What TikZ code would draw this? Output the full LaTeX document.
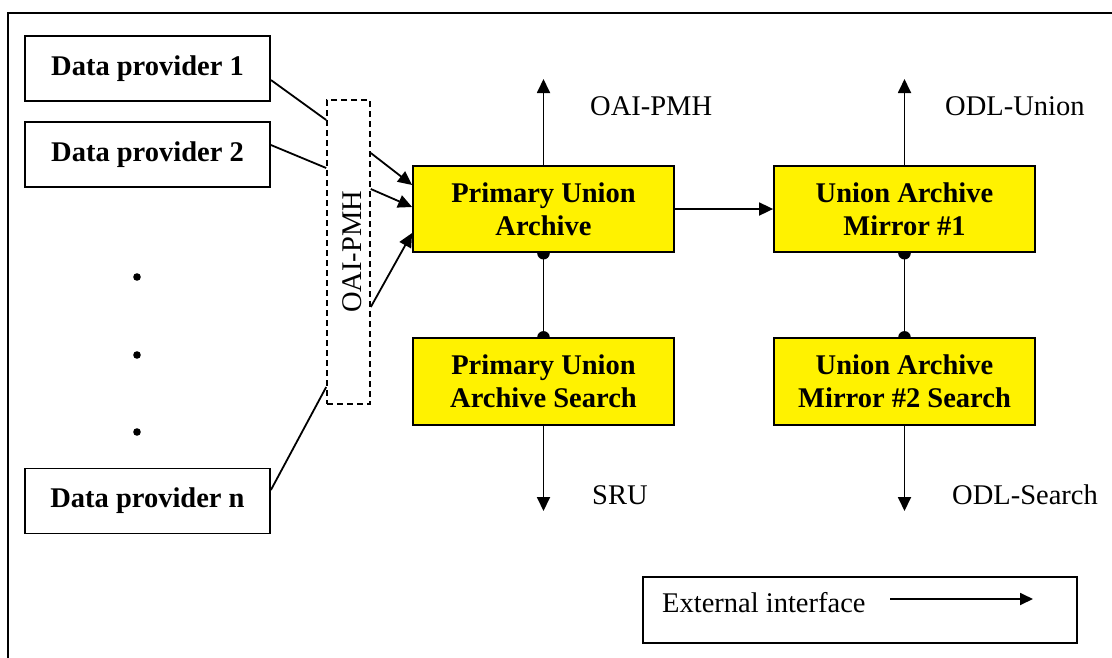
\documentclass[tikz,border=0pt]{standalone}
\usepackage{fontspec}
\setmainfont{Liberation Serif}
\usetikzlibrary{arrows.meta,backgrounds}
\begin{document}
\begin{tikzpicture}[x=1pt,y=-1pt,
  txt/.style={font=\fontsize{28.5}{33}\selectfont, inner sep=0pt},
  box/.style={draw, line width=1.8pt, minimum width=245pt, minimum height=65pt, align=center, inner sep=0pt,
    font=\fontsize{28.5}{33}\selectfont\bfseries},
  ybox/.style={box, fill=yellow, minimum width=261pt, minimum height=86.5pt},
  arr/.style={line width=1.8pt, -{Triangle[length=14pt,width=13pt]}},
  ln/.style={line width=1.8pt}]
\useasboundingbox (0,0) rectangle (1112,657);
\draw[line width=2.6pt] (8,13) rectangle (1130,680);

\node[box] (dp1) at (147.5,68.5) {Data provider 1};
\node[box] (dp2) at (147.5,154.5) {Data provider 2};
\node[box] (dpn) at (147.5,501) {Data provider n};
\fill (137,277) circle (3.8pt) (137,355) circle (3.8pt) (137,432) circle (3.8pt);

\node[draw, line width=1.6pt, dash pattern=on 6pt off 4pt, minimum width=43pt, minimum height=304pt, inner sep=0pt] (oai) at (348.5,252) {};
\node[txt, rotate=90] (oait) at (352,252) {OAI-PMH};

\node[ybox] (pua) at (543.5,209) {Primary Union\\Archive};
\node[ybox] (puas) at (543.5,381.5) {Primary Union\\Archive Search};
\node[ybox] (uam1) at (904.5,209) {Union Archive\\Mirror \#1};
\node[ybox] (uam2) at (904.5,381.5) {Union Archive\\Mirror \#2 Search};

\draw[ln] ([yshift=-11.5pt]dp1.east) -- ([yshift=132pt]oai.west);
\draw[ln] ([yshift=9.5pt]dp2.east) -- ([yshift=84pt]oai.west);
\draw[ln] ([yshift=11pt]dpn.east) -- ([yshift=-135pt]oai.west);

\draw[arr] ([yshift=99pt]oai.east) -- ([yshift=24pt]pua.west);
\draw[arr] ([yshift=63pt]oai.east) -- ([yshift=2pt]pua.west);
\draw[arr] ([yshift=-55pt]oai.east) -- ([yshift=-24pt]pua.west);

\draw[arr] (pua.east) -- (uam1.west);

\coordinate (u1) at (543.5,79);
\coordinate (u2) at (904.5,79);
\coordinate (d1) at (543.5,511);
\coordinate (d2) at (904.5,511);
\draw[arr] (pua.north) -- (u1);
\draw[arr] (uam1.north) -- (u2);
\draw[arr] (puas.south) -- (d1);
\draw[arr] (uam2.south) -- (d2);

\begin{scope}[on background layer]
\draw[ln] (pua.south) -- (puas.north);
\draw[ln] (uam1.south) -- (uam2.north);
\fill (pua.south) circle (6.3pt) (puas.north) circle (6.3pt)
      (uam1.south) circle (6.3pt) (uam2.north) circle (6.3pt);
\end{scope}

\node[txt, anchor=west] (l1) at (590,106) {OAI-PMH};
\node[txt, anchor=west] (l2) at (945,106) {ODL-Union};
\node[txt, anchor=west] (l3) at (592,495) {SRU};
\node[txt, anchor=west] (l4) at (952,495) {ODL-Search};

\node[draw, line width=1.8pt, minimum width=434pt, minimum height=66pt, inner sep=0pt] (leg) at (860,610) {};
\node[txt, anchor=west] (legt) at (662,603) {External interface};
\coordinate (la) at (890,599);
\coordinate (lb) at (1033,599);
\draw[line width=1.8pt, -{Triangle[length=13pt,width=12pt]}] (la) -- (lb);
\end{tikzpicture}
\end{document}
